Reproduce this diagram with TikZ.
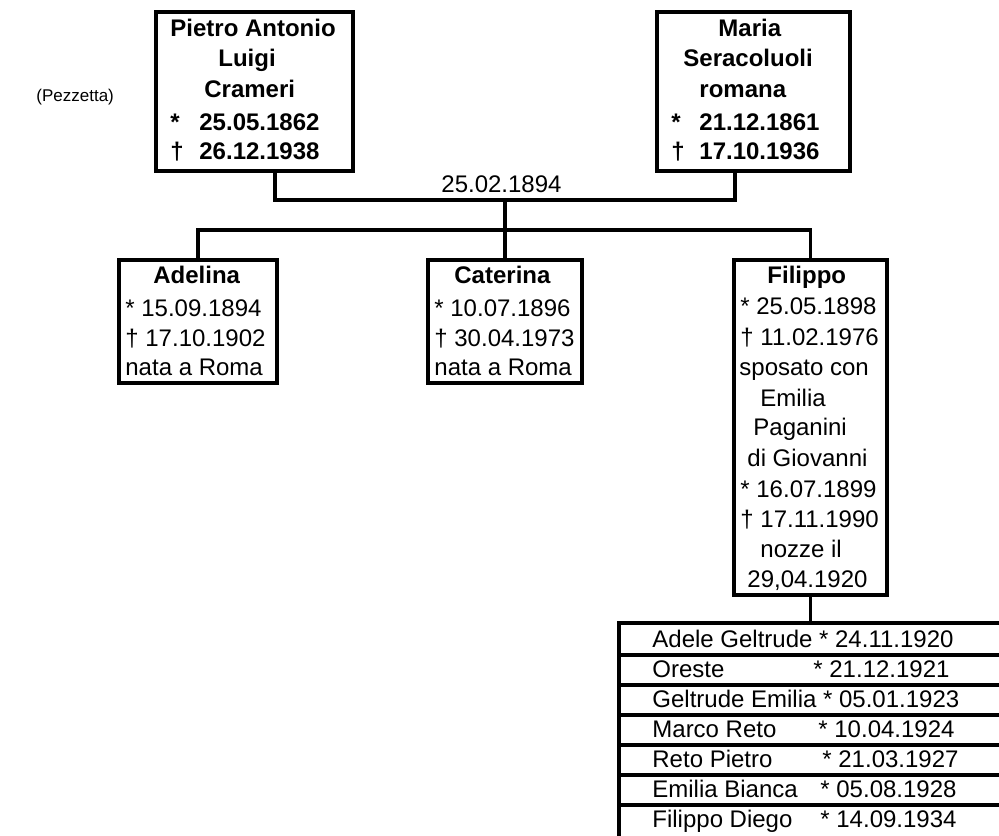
\documentclass[tikz,border=0pt]{standalone}
\usepackage{fontspec}
\setmainfont{Liberation Sans}
\begin{document}
\begin{tikzpicture}[x=0.5pt,y=-0.5pt,
  box/.style={draw, line width=1.8pt, inner sep=0pt, outer sep=0pt},
  conn/.style={line width=1.6pt},
  txt/.style={anchor=base west, inner sep=0pt, font=\fontsize{12}{14}\selectfont},
  btxt/.style={anchor=base west, inner sep=0pt, font=\fontsize{12}{14}\selectfont\bfseries},
  rowbox/.style={draw, line width=1.8pt, inner sep=0pt, outer sep=0pt, anchor=north west, minimum width=200pt}]
\useasboundingbox (0,0) rectangle (999,835);
\clip (0,0) rectangle (999,835);

% parents
\node[box, minimum width=98.5pt, minimum height=79.5pt] (pietro) at (254.5,91.5) {};
\node[box, minimum width=96.5pt, minimum height=79.5pt] (maria) at (753.5,91.5) {};
% children
\node[box, minimum width=79pt, minimum height=61.5pt] (adelina) at (198,321.5) {};
\node[box, minimum width=77pt, minimum height=61.5pt] (caterina) at (505,321.5) {};
\node[box, minimum width=76.5pt, minimum height=167.5pt] (filippo) at (810.5,427.5) {};

% grandchildren list
\node[rowbox, minimum height=16pt] (r1) at (619,623) {};
\node[rowbox, minimum height=15pt] (r2) at (r1.south west) {};
\node[rowbox, minimum height=15pt] (r3) at (r2.south west) {};
\node[rowbox, minimum height=15pt] (r4) at (r3.south west) {};
\node[rowbox, minimum height=15pt] (r5) at (r4.south west) {};
\node[rowbox, minimum height=15pt] (r6) at (r5.south west) {};
\node[rowbox, minimum height=30pt] (r7) at (r6.south west) {};

% junction points
\coordinate (pj) at (275,200);
\coordinate (mj) at (735,200);
\coordinate (fork) at (505,200);
\coordinate (kids) at (505,230);

% connectors
\draw[conn] (pietro.south -| pj) -- (pj) -- (mj) -- (maria.south -| mj);
\draw[conn] (fork) -- (caterina.north);
\draw[conn] (adelina.north) -- (adelina.north |- kids) -- (filippo.north |- kids) -- (filippo.north);
\draw[conn] (filippo.south) -- (filippo.south |- r1.north);

% texts
\node[anchor=base west, inner sep=0pt, font=\fontsize{8.5}{10}\selectfont] (note) at (36,101) {(Pezzetta)};

\node[btxt] (p1) at (170,36) {Pietro Antonio};
\node[btxt] (p2) at (218,66) {Luigi};
\node[btxt] (p3) at (204,97) {Crameri};
\node[btxt] (p4) at (170,130) {*};
\node[btxt] (p5) at (199,130) {25.05.1862};
\node[btxt] (p6) at (170,159) {†};
\node[btxt] (p7) at (199,159) {26.12.1938};

\node[btxt] (m1) at (718,36) {Maria};
\node[btxt] (m2) at (683,66) {Seracoluoli};
\node[btxt] (m3) at (699,97) {romana};
\node[btxt] (m4) at (671,130) {*};
\node[btxt] (m5) at (699,130) {21.12.1861};
\node[btxt] (m6) at (671,159) {†};
\node[btxt] (m7) at (699,159) {17.10.1936};

\node[txt] (wed) at (441,192) {25.02.1894};

\node[btxt] (a1) at (153,283) {Adelina};
\node[txt] (a2) at (125,316) {* 15.09.1894};
\node[txt] (a3) at (125,346) {† 17.10.1902};
\node[txt] (a4) at (125,375) {nata a Roma};

\node[btxt] (c1) at (454,283) {Caterina};
\node[txt] (c2) at (434,316) {* 10.07.1896};
\node[txt] (c3) at (434,346) {† 30.04.1973};
\node[txt] (c4) at (434,375) {nata a Roma};

\node[btxt] (f1) at (767,283) {Filippo};
\node[txt] (f2) at (740,314) {* 25.05.1898};
\node[txt] (f3) at (740,345) {† 11.02.1976};
\node[txt] (f4) at (739,375) {sposato con};
\node[txt] (f5) at (760,406) {Emilia};
\node[txt] (f6) at (753,435) {Paganini};
\node[txt] (f7) at (747,466) {di Giovanni};
\node[txt] (f8) at (740,497) {* 16.07.1899};
\node[txt] (f9) at (740,527) {† 17.11.1990};
\node[txt] (f10) at (760,557) {nozze il};
\node[txt] (f11) at (747,587) {29,04.1920};

\node[txt] (g1) at (652,647) {Adele Geltrude * 24.11.1920};
\node[txt] (g2) at (652,677) {Oreste};
\node[txt] (g2d) at (813,677) {* 21.12.1921};
\node[txt] (g3) at (652,707) {Geltrude Emilia * 05.01.1923};
\node[txt] (g4) at (652,737) {Marco Reto};
\node[txt] (g4d) at (818,737) {* 10.04.1924};
\node[txt] (g5) at (652,767) {Reto Pietro};
\node[txt] (g5d) at (822,767) {* 21.03.1927};
\node[txt] (g6) at (652,797) {Emilia Bianca};
\node[txt] (g6d) at (820,797) {* 05.08.1928};
\node[txt] (g7) at (652,827) {Filippo Diego};
\node[txt] (g7d) at (820,827) {* 14.09.1934};
\end{tikzpicture}
\end{document}
